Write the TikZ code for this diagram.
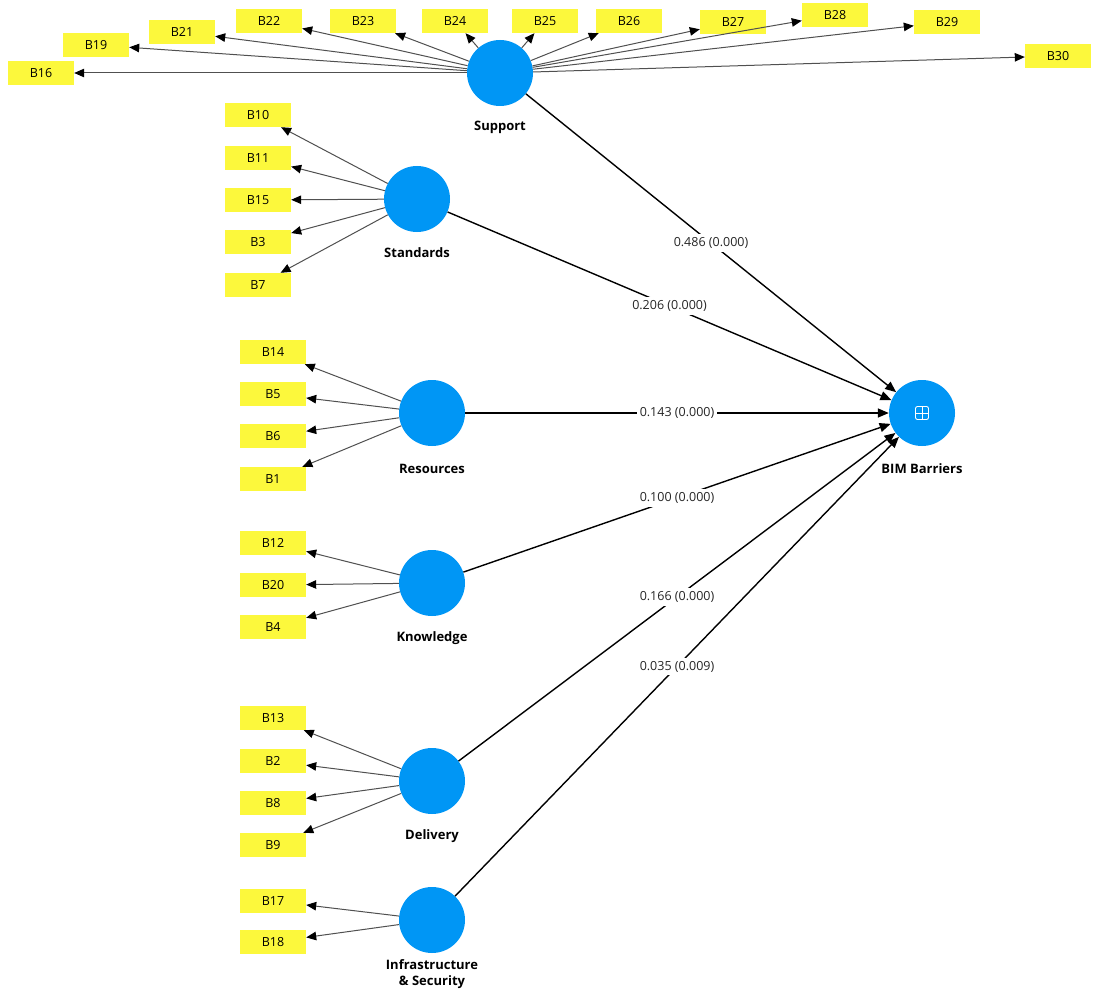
\documentclass[tikz,border=0pt]{standalone}
\usepackage{fontspec}
\setmainfont{Open Sans}
\usetikzlibrary{arrows.meta}
\definecolor{lvblue}{RGB}{0,150,245}
\definecolor{indyellow}{RGB}{252,248,60}
\definecolor{linegray}{RGB}{80,80,80}
\begin{document}
\begin{tikzpicture}[x=1pt,y=-1pt,
  latent/.style={circle,fill=lvblue,minimum size=66pt,inner sep=0pt},
  ind/.style={fill=indyellow,minimum width=66pt,minimum height=24pt,inner sep=0pt,font=\fontsize{12.5}{14}\selectfont},
  lbl/.style={font=\fontsize{13}{16}\selectfont\bfseries,align=center,inner sep=0pt},
  outarr/.style={draw=linegray,line width=1pt,-{Triangle[length=10pt,width=8.5pt,color=black]}},
  pathar/.style={draw=black,line width=1.4pt,-{Triangle[length=11pt,width=9pt]}},
  coef/.style={fill=white,inner sep=3pt,font=\fontsize{12.5}{14}\selectfont,text=black!85}]
\useasboundingbox[fill=white] (0,0) rectangle (1110,1003);

% latent variables
\node[latent] (Support) at (500,73) {};
\node[latent] (Standards) at (417,199) {};
\node[latent] (Resources) at (432,413) {};
\node[latent] (Knowledge) at (432,583) {};
\node[latent] (Delivery) at (432,781) {};
\node[latent] (Infra) at (432,920) {};
\node[latent] (BIM) at (922,413) {};
\draw[white,line width=0.9pt,rounded corners=2pt] (915.5,406.5) rectangle (928.5,419.5);
\draw[white,line width=0.9pt] (922,406.5) -- (922,419.5) (915.5,413) -- (928.5,413);

% latent labels
\node[lbl] (lSupport) at (500,127) {Support};
\node[lbl] (lStandards) at (417,253) {Standards};
\node[lbl] (lResources) at (432,469) {Resources};
\node[lbl] (lKnowledge) at (432,638) {Knowledge};
\node[lbl] (lDelivery) at (432,836) {Delivery};
\node[lbl] (lInfra) at (432,974) {Infrastructure\\\& Security};
\node[lbl] (lBIM) at (922,469) {BIM Barriers};

% support indicators
\node[ind] (B16) at (41,73) {B16};
\node[ind] (B19) at (96,45) {B19};
\node[ind] (B21) at (182,32) {B21};
\node[ind] (B22) at (269,21) {B22};
\node[ind] (B23) at (363,21) {B23};
\node[ind] (B24) at (455,21) {B24};
\node[ind] (B25) at (545,21) {B25};
\node[ind] (B26) at (629,21) {B26};
\node[ind] (B27) at (733,22) {B27};
\node[ind] (B28) at (835,15) {B28};
\node[ind] (B29) at (947,22) {B29};
\node[ind] (B30) at (1058,56) {B30};
\foreach \b in {B16,B19,B21,B22,B23,B24,B25,B26,B27,B28,B29,B30}
  \draw[outarr] (Support) -- (\b);

% standards indicators
\node[ind] (B10) at (258,115) {B10};
\node[ind] (B11) at (258,158) {B11};
\node[ind] (B15) at (258,200) {B15};
\node[ind] (B3) at (258,242) {B3};
\node[ind] (B7) at (258,285) {B7};
\foreach \b in {B10,B11,B15,B3,B7}
  \draw[outarr] (Standards) -- (\b);

% resources indicators
\node[ind] (B14) at (273,352) {B14};
\node[ind] (B5) at (273,394) {B5};
\node[ind] (B6) at (273,436) {B6};
\node[ind] (B1) at (273,479) {B1};
\foreach \b in {B14,B5,B6,B1}
  \draw[outarr] (Resources) -- (\b);

% knowledge indicators
\node[ind] (B12) at (273,543) {B12};
\node[ind] (B20) at (273,585) {B20};
\node[ind] (B4) at (273,627) {B4};
\foreach \b in {B12,B20,B4}
  \draw[outarr] (Knowledge) -- (\b);

% delivery indicators
\node[ind] (B13) at (273,718) {B13};
\node[ind] (B2) at (273,761) {B2};
\node[ind] (B8) at (273,803) {B8};
\node[ind] (B9) at (273,845) {B9};
\foreach \b in {B13,B2,B8,B9}
  \draw[outarr] (Delivery) -- (\b);

% infrastructure indicators
\node[ind] (B17) at (273,901) {B17};
\node[ind] (B18) at (273,942) {B18};
\foreach \b in {B17,B18}
  \draw[outarr] (Infra) -- (\b);

% structural paths
\draw[pathar] (Support) -- node[coef] (c1) {0.486 (0.000)} (BIM);
\draw[pathar] (Standards) -- node[coef] (c2) {0.206 (0.000)} (BIM);
\draw[pathar] (Resources) -- node[coef] (c3) {0.143 (0.000)} (BIM);
\draw[pathar] (Knowledge) -- node[coef] (c4) {0.100 (0.000)} (BIM);
\draw[pathar] (Delivery) -- node[coef] (c5) {0.166 (0.000)} (BIM);
\draw[pathar] (Infra) -- node[coef] (c6) {0.035 (0.009)} (BIM);
\end{tikzpicture}
\end{document}
